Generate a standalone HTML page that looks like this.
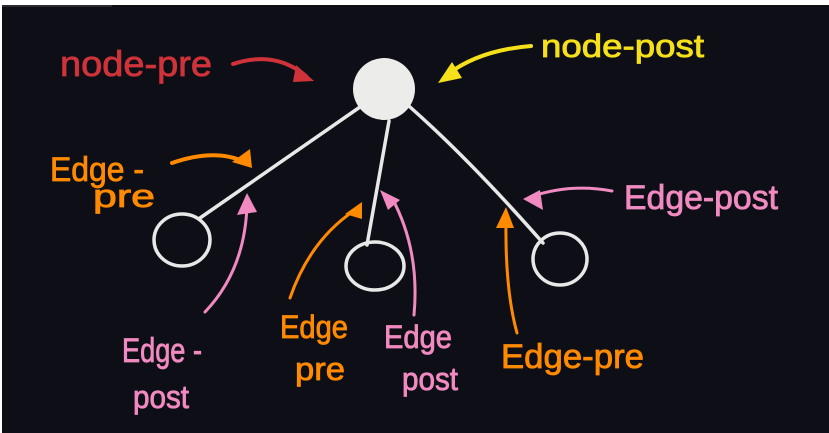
<!DOCTYPE html>
<html><head><meta charset="utf-8"><style>
html,body{margin:0;padding:0;background:#fff;}
svg{display:block;}
text{font-family:"Liberation Sans",sans-serif;}
</style></head><body>
<svg width="829" height="433" viewBox="0 0 829 433" xmlns="http://www.w3.org/2000/svg">
<rect x="2" y="5" width="827" height="428" fill="#0e0f16"/>
<rect x="2" y="5" width="110" height="2" fill="#2a2b30"/>
<g fill="none" stroke="#e8e8e8" stroke-width="3.5" stroke-linecap="round">
<line x1="360" y1="107" x2="200" y2="218"/>
<line x1="389" y1="121" x2="367" y2="245"/>
<path d="M410 107 Q470 160 543 243"/>
<ellipse cx="182" cy="240" rx="28" ry="26"/>
<ellipse cx="375" cy="266" rx="29" ry="24"/>
<ellipse cx="560" cy="259" rx="27" ry="26"/>
</g>
<circle cx="384" cy="89" r="31" fill="#ececeb"/>
<g fill="none" stroke-width="4" stroke-linecap="round">
<path d="M233 64 Q275 50 306 76" stroke="#d0323a"/>
<path d="M531 46 Q480 50 448 74" stroke="#f5e01a"/>
<path d="M172 163 Q215 148 245 162" stroke="#ff8a00"/>
<path d="M205 312 Q245 270 247 205" stroke="#f08ac0" stroke-width="3"/>
<path d="M290 298 Q310 240 355 210" stroke="#ff8a00" stroke-width="3"/>
<path d="M414 315 Q420 250 392 198" stroke="#f08ac0" stroke-width="3"/>
<path d="M517 333 Q505 290 506 220" stroke="#ff8a00" stroke-width="3"/>
<path d="M612 191 Q570 183 530 197" stroke="#f08ac0" stroke-width="3"/>
</g>
<polygon points="296,65 314,81 293,82" fill="#d0323a"/>
<polygon points="438,83 462,78 452,62" fill="#f5e01a"/>
<polygon points="232,162 252,168 250,149" fill="#ff8a00"/>
<polygon points="237,215 257,212 247,193" fill="#f08ac0"/>
<polygon points="345,214 362,219 362,202" fill="#ff8a00"/>
<polygon points="380,190 388,210 400,200" fill="#f08ac0"/>
<polygon points="496,228 514,228 506,207" fill="#ff8a00"/>
<polygon points="523,199 543,210 540,190" fill="#f08ac0"/>
<g stroke-width="0.8">
<text x="60" y="76" font-size="36" fill="#d0323a" stroke="#d0323a" textLength="152" lengthAdjust="spacingAndGlyphs">node-pre</text>
<text x="541" y="57" font-size="32" fill="#f5e01a" stroke="#f5e01a" textLength="163" lengthAdjust="spacingAndGlyphs">node-post</text>
<text x="50" y="181" font-size="34" fill="#ff8a00" stroke="#ff8a00" textLength="94" lengthAdjust="spacingAndGlyphs">Edge -</text>
<text x="93" y="207" font-size="32" fill="#ff8a00" stroke="#ff8a00" textLength="62" lengthAdjust="spacingAndGlyphs">pre</text>
<text x="624" y="209" font-size="34" fill="#f08ac0" stroke="#f08ac0" textLength="154" lengthAdjust="spacingAndGlyphs">Edge-post</text>
<text x="122" y="362" font-size="34" fill="#f08ac0" stroke="#f08ac0" textLength="80" lengthAdjust="spacingAndGlyphs">Edge -</text>
<text x="133" y="408" font-size="32" fill="#f08ac0" stroke="#f08ac0" textLength="56" lengthAdjust="spacingAndGlyphs">post</text>
<text x="280" y="338" font-size="32" fill="#ff8a00" stroke="#ff8a00" textLength="68" lengthAdjust="spacingAndGlyphs">Edge</text>
<text x="295" y="380" font-size="32" fill="#ff8a00" stroke="#ff8a00" textLength="50" lengthAdjust="spacingAndGlyphs">pre</text>
<text x="384" y="348" font-size="32" fill="#f08ac0" stroke="#f08ac0" textLength="68" lengthAdjust="spacingAndGlyphs">Edge</text>
<text x="402" y="390" font-size="32" fill="#f08ac0" stroke="#f08ac0" textLength="56" lengthAdjust="spacingAndGlyphs">post</text>
<text x="501" y="368" font-size="34" fill="#ff8a00" stroke="#ff8a00" textLength="143" lengthAdjust="spacingAndGlyphs">Edge-pre</text>
</g>
</svg>
</body></html>
